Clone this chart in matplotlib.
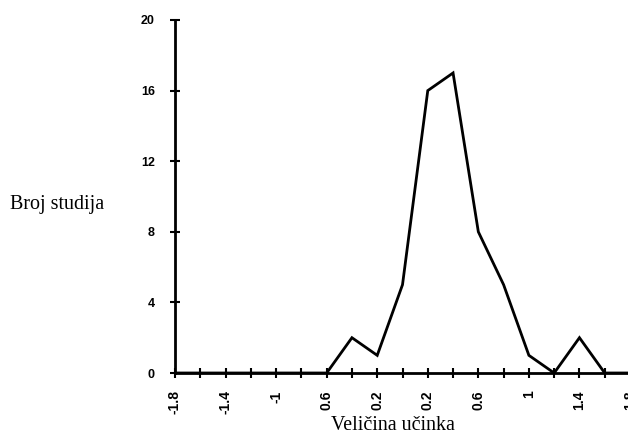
import matplotlib.pyplot as plt
import numpy as np

# effect size bins and number of studies per bin
x = [-1.8, -1.6, -1.4, -1.2, -1.0, -0.8, -0.6, -0.4, -0.2, 0.0,
     0.2, 0.4, 0.6, 0.8, 1.0, 1.2, 1.4, 1.6, 1.8]
y = [0, 0, 0, 0, 0, 0, 0, 2, 1, 5, 16, 17, 8, 5, 1, 0, 2, 0, 0]
xtick_pos = [-1.8, -1.4, -1.0, -0.6, -0.2, 0.2, 0.6, 1.0, 1.4, 1.8]
xtick_lab = ["-1.8", "-1.4", "-1", "0.6", "0.2", "0.2", "0.6", "1", "1.4", "1.8"]
ytick_pos = [0, 4, 8, 12, 16, 20]

fig = plt.figure(figsize=(6.28, 4.37), dpi=100)
ax = fig.add_axes([175/628, 1-373/437, 455/628, 353/437])
ax.plot(x, y, color='black', lw=2, solid_joinstyle='miter')
ax.set_xlim(-1.8, 1.8)
ax.set_ylim(0, 20)
ax.set_xticks(np.arange(-1.8, 1.81, 0.2), minor=True)
ax.set_xticks(xtick_pos)
ax.set_xticklabels(xtick_lab, rotation=90, fontsize=10, fontweight='bold',
                   family='Liberation Sans')
ax.set_yticks(ytick_pos)
ax.set_yticklabels([str(v) for v in ytick_pos], fontsize=9, fontweight='bold',
                   family='Liberation Sans')
ax.tick_params(axis='both', which='both', direction='inout', length=7, width=1.5, color='black')
ax.tick_params(axis='y', pad=11)
ax.tick_params(axis='x', pad=9)
for s in ['top', 'right']:
    ax.spines[s].set_visible(False)
for s in ['left', 'bottom']:
    ax.spines[s].set_linewidth(2)
ax.patch.set_visible(False)

fig.text(10/628, 1-205/437, "Broj studija", fontsize=14.4, family='Liberation Serif',
         ha='left', va='center')
fig.text(393/628, 1-425/437, "Veličina učinka", fontsize=14.4, family='Liberation Serif',
         ha='center', va='center')

fig.savefig("out.png", dpi=100)
